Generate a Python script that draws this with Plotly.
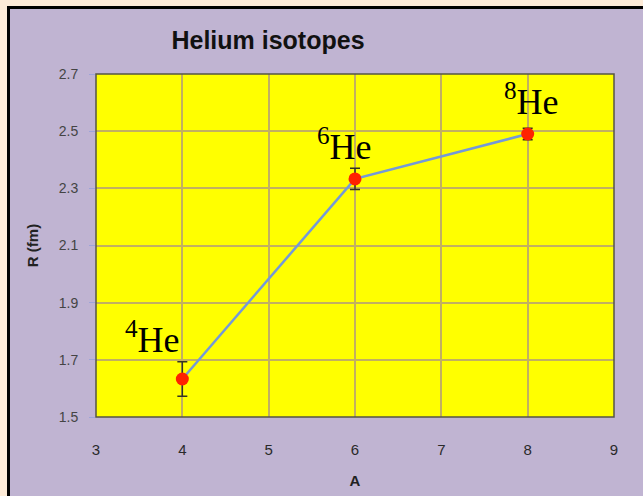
import plotly.graph_objects as go

# Helium isotope matter radii
mass_number = [4, 6, 8]
radius_fm = [1.633, 2.333, 2.490]
radius_err = [0.06, 0.037, 0.02]
isotope_labels = ["<sup>4</sup>He", "<sup>6</sup>He", "<sup>8</sup>He"]

x_ticks = [3, 4, 5, 6, 7, 8, 9]
y_ticks = [1.5, 1.7, 1.9, 2.1, 2.3, 2.5, 2.7]

W, H = 643, 496
L, R, T, B = 96, 29, 74, 79
pw, ph = W - L - R, H - T - B

def px_x(p):
    return (p - L) / pw

def px_y(p):
    return (H - B - p) / ph

LAVENDER = "#c0b4d2"
BEIGE = "#fdebd8"
GRID = "#c2b060"

fig = go.Figure()

fig.add_trace(go.Scatter(
    x=mass_number, y=radius_fm,
    mode="lines+markers",
    line=dict(color="#7499d8", width=2.5),
    marker=dict(color="#ff2200", size=13),
    error_y=dict(type="data", array=radius_err, visible=True,
                 color="#333322", thickness=1.5, width=5),
    showlegend=False,
))

# isotope labels placed just above each point
label_offsets = [(-0.35, 0.059), (-0.116, 0.035), (0.04, 0.035)]
for xv, yv, txt, (dx, dy) in zip(mass_number, radius_fm, isotope_labels, label_offsets):
    fig.add_annotation(
        x=xv + dx, y=yv + dy,
        text=txt, showarrow=False, yanchor="bottom",
        font=dict(family="Liberation Serif", size=36, color="black"),
    )

shapes = [
    # beige margin strips around the framed panel
    dict(type="rect", xref="paper", yref="paper",
         x0=px_x(0), x1=px_x(7), y0=px_y(H), y1=px_y(0),
         fillcolor=BEIGE, line=dict(width=0), layer="below"),
    dict(type="rect", xref="paper", yref="paper",
         x0=px_x(0), x1=px_x(W), y0=px_y(6), y1=px_y(0),
         fillcolor=BEIGE, line=dict(width=0), layer="below"),
    # dark frame edges
    dict(type="line", xref="paper", yref="paper",
         x0=px_x(8.5), x1=px_x(8.5), y0=px_y(H), y1=px_y(6),
         line=dict(color="black", width=3), layer="below"),
    dict(type="line", xref="paper", yref="paper",
         x0=px_x(7), x1=px_x(W), y0=px_y(7.5), y1=px_y(7.5),
         line=dict(color="black", width=3), layer="below"),
    # plot area border
    dict(type="rect", xref="paper", yref="paper",
         x0=0, x1=1, y0=0, y1=1,
         line=dict(color="#555544", width=1.5), layer="above"),
]

fig.update_layout(
    width=W, height=H,
    margin=dict(l=L, r=R, t=T, b=B),
    paper_bgcolor=LAVENDER,
    plot_bgcolor="#ffff00",
    shapes=shapes,
    title=dict(text="<b>Helium isotopes</b>", x=268 / W, xanchor="center",
               y=1 - 40 / H, yanchor="middle",
               font=dict(family="Liberation Sans", size=25, color="#111111")),
    font=dict(family="Liberation Sans", size=14, color="#333333"),
)

fig.update_xaxes(
    range=[3, 9], tickvals=x_ticks, showgrid=True, gridcolor=GRID,
    gridwidth=1.5, zeroline=False, showline=False, automargin=False,
    ticks="", ticklabelstandoff=22, tickfont=dict(size=15, color="#2a2a2a"),
    title=dict(text="<b>A</b>", font=dict(size=15, color="#222222"), standoff=18),
)
fig.update_yaxes(
    range=[1.5, 2.7], tickvals=y_ticks, tickformat=".1f",
    showgrid=True, gridcolor=GRID, gridwidth=1.5,
    zeroline=False, showline=False, automargin=False,
    ticks="outside", ticklen=6, tickcolor="#9ea4d8", ticklabelstandoff=8,
    tickfont=dict(size=14, color="#444444"),
    title=dict(text="<b>R (fm)</b>", font=dict(size=15, color="#222222"), standoff=16),
)

fig.write_html("out.html")
